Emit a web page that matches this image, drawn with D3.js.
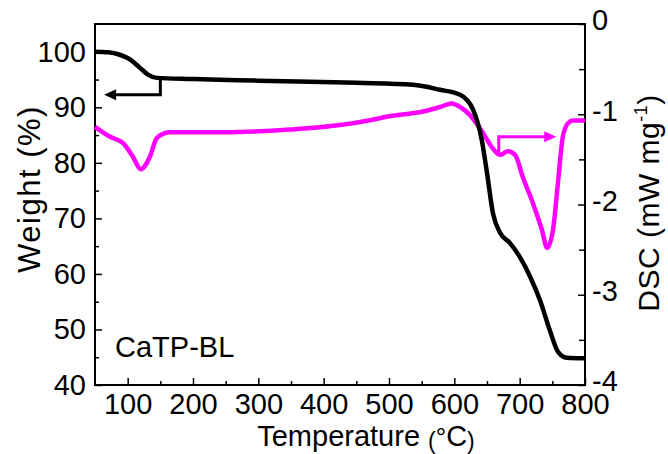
<!DOCTYPE html>
<html>
<head>
<meta charset="utf-8">
<script src="https://cdn.jsdelivr.net/npm/d3@7"></script>
<style>
  body { margin: 0; background: #fff; }
  text { font-family: Arial, "Liberation Sans", sans-serif; fill: #000; }
</style>
</head>
<body>
<div id="chart-area"></div>
<script>
// TGA (weight %)
var tgaTemp = [50, 70, 84, 104, 119, 131, 145, 200, 298, 451, 537, 578, 609, 629, 642, 650, 659, 670, 685, 700, 716, 731, 746, 759, 772, 800];
var tgaWeight = [100, 99.9, 99.6, 98.6, 97.1, 95.9, 95.3, 95.1, 94.8, 94.4, 94.05, 93.15, 92.25, 89.5, 84.1, 78.2, 71.0, 67.4, 65.6, 63.1, 59.5, 55.3, 49.9, 45.9, 44.9, 44.8];

// DSC (mW mg-1)
var dscTemp = [50, 73, 93, 108, 120, 134, 145, 165, 246, 348, 425, 475, 502, 552, 578, 596, 609, 624, 644, 658, 670, 682, 693, 705, 720, 734, 742, 751, 759, 766, 774, 782, 800];
var dscValue = [-1.14, -1.25, -1.32, -1.47, -1.61, -1.47, -1.26, -1.20, -1.20, -1.17, -1.12, -1.06, -1.02, -0.97, -0.92, -0.88, -0.92, -1.01, -1.21, -1.37, -1.45, -1.41, -1.45, -1.70, -1.98, -2.28, -2.48, -2.28, -1.73, -1.25, -1.10, -1.07, -1.07];

var xTicks = [100, 200, 300, 400, 500, 600, 700, 800];
var weightTicks = [40, 50, 60, 70, 80, 90, 100];
var dscTicks = [0, -1, -2, -3, -4];

// arrow annotations, in data units
var tgaArrow = [[150, 95.2], [150, 92.25], [64, 92.25]];
var dscArrow = [[668, -1.45], [668, -1.25], [756, -1.25]];

var margin = { top: 24, right: 83, bottom: 69, left: 95 },
	width = 668 - margin.left - margin.right,
	height = 454 - margin.top - margin.bottom;

var svg = d3.select('#chart-area')
	.append('svg')
		.attr('width', 668)
		.attr('height', 454);

var g = svg.append('g')
	.attr('transform', 'translate(' + margin.left + ', ' + margin.top + ')');

var x = d3.scaleLinear().domain([50, 800]).range([0, width]);
var yW = d3.scaleLinear().domain([40, 105]).range([height, 0]);
var yD = d3.scaleLinear().domain([-4, 0]).range([height, 0]);

var fmt = d => String(d);

// minor ticks
g.append('g')
	.attr('class', 'axis')
	.call(d3.axisLeft(yW).tickValues(d3.range(45, 105, 10)).tickSize(-4).tickFormat(''));
g.append('g')
	.attr('class', 'axis')
	.attr('transform', 'translate(0, ' + height + ')')
	.call(d3.axisBottom(x).tickValues(d3.range(150, 800, 100)).tickSize(-4).tickFormat(''));
g.append('g')
	.attr('class', 'axis')
	.attr('transform', 'translate(' + width + ', 0)')
	.call(d3.axisRight(yD).tickValues([-0.5, -1.5, -2.5, -3.5]).tickSize(-6).tickFormat(''));

// major ticks
g.append('g')
	.attr('class', 'axis')
	.call(d3.axisLeft(yW).tickValues(weightTicks).tickSize(-7).tickPadding(9).tickFormat(fmt));
g.append('g')
	.attr('class', 'axis')
	.attr('transform', 'translate(0, ' + height + ')')
	.call(d3.axisBottom(x).tickValues(xTicks).tickSize(-7).tickPadding(8).tickFormat(fmt));
var rightAxis = g.append('g')
	.attr('class', 'axis')
	.attr('transform', 'translate(' + width + ', 0)')
	.call(d3.axisRight(yD).tickValues(dscTicks).tickSize(-7).tickPadding(7).tickFormat(fmt));

g.selectAll('.axis text').attr('font-size', '29px');
rightAxis.selectAll('text').attr('dy', '0.2em');
g.selectAll('.axis line').attr('stroke-width', 1.5);
g.selectAll('.axis path').remove();

// frame
g.append('rect')
	.attr('width', width)
	.attr('height', height)
	.attr('fill', 'none')
	.attr('stroke', '#000')
	.attr('stroke-width', 2);

// curves
var tga = tgaTemp.map((t, i) => [t, tgaWeight[i]]);
var dsc = dscTemp.map((t, i) => [t, dscValue[i]]);

g.append('path')
	.datum(dsc)
	.attr('fill', 'none')
	.attr('stroke', '#ff00ff')
	.attr('stroke-width', 4.5)
	.attr('d', d3.line().curve(d3.curveMonotoneX).x(d => x(d[0])).y(d => yD(d[1])));

g.append('path')
	.datum(tga)
	.attr('fill', 'none')
	.attr('stroke', '#000')
	.attr('stroke-width', 4.5)
	.attr('d', d3.line().curve(d3.curveMonotoneX).x(d => x(d[0])).y(d => yW(d[1])));

// arrows
var drawArrow = (pts, ys, color, dir) => {
	var p = pts.map(d => [x(d[0]), ys(d[1])]);
	var tip = p[p.length - 1];
	g.append('path')
		.attr('fill', 'none')
		.attr('stroke', color)
		.attr('stroke-width', 3)
		.attr('d', d3.line()(p.slice(0, -1).concat([[tip[0] - dir * 8, tip[1]]])));
	g.append('path')
		.attr('fill', color)
		.attr('d', 'M' + tip[0] + ',' + tip[1] +
			'L' + (tip[0] - dir * 12) + ',' + (tip[1] - 5.5) +
			'L' + (tip[0] - dir * 12) + ',' + (tip[1] + 5.5) + 'Z');
};
drawArrow(tgaArrow, yW, '#000', -1);
drawArrow(dscArrow, yD, '#ff00ff', 1);

// labels
g.append('text')
	.attr('x', 20)
	.attr('y', 333)
	.attr('font-size', '29px')
	.text('CaTP-BL');

svg.append('text')
	.attr('transform', 'translate(40, 189) rotate(-90)')
	.attr('text-anchor', 'middle')
	.attr('font-size', '31px')
	.attr('letter-spacing', '1.5')
	.text('Weight (%)');

var dscLabel = svg.append('text')
	.attr('transform', 'translate(659, 203) rotate(-90)')
	.attr('text-anchor', 'middle')
	.attr('font-size', '30px')
	.attr('letter-spacing', '0.5');
dscLabel.append('tspan').text('DSC (mW mg');
dscLabel.append('tspan').attr('font-size', '18px').attr('dy', '-12').text('-1');
dscLabel.append('tspan').attr('dy', '12').text(')');

var xLabel = svg.append('text')
	.attr('x', 366)
	.attr('y', 446)
	.attr('text-anchor', 'middle')
	.attr('font-size', '29px');
xLabel.append('tspan').text('Temperature ');
xLabel.append('tspan').attr('font-size', '23px').attr('dy', '3').text('(');
xLabel.append('tspan').attr('font-size', '26px').attr('dy', '-3').text('°');
xLabel.append('tspan').text('C');
xLabel.append('tspan').attr('font-size', '23px').attr('dy', '3').text(')');
</script>
</body>
</html>
